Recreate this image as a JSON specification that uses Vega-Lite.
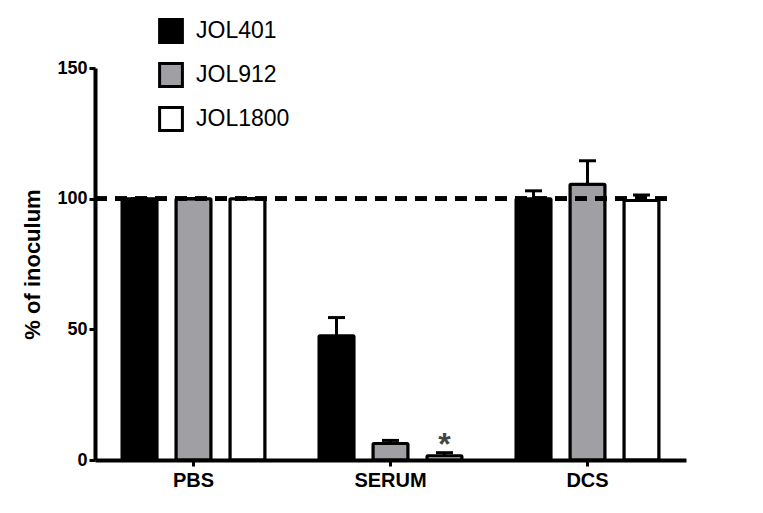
{
  "$schema": "https://vega.github.io/schema/vega-lite/v6.json",
  "width": 591,
  "height": 392,
  "autosize": {"type": "none"},
  "padding": {"left": 95, "top": 68, "right": 77, "bottom": 53},
  "background": "white",
  "config": {
    "font": "Liberation Sans",
    "view": {"stroke": null},
    "axis": {"grid": false, "domainColor": "black", "tickColor": "black", "labelColor": "black", "titleColor": "black"}
  },
  "data": {
    "values": [
      {"group": "PBS", "strain": "JOL401", "value": 100, "err": 100, "note": ""},
      {"group": "PBS", "strain": "JOL912", "value": 100, "err": 100, "note": ""},
      {"group": "PBS", "strain": "JOL1800", "value": 100, "err": 100, "note": ""},
      {"group": "SERUM", "strain": "JOL401", "value": 47.5, "err": 54.5, "note": ""},
      {"group": "SERUM", "strain": "JOL912", "value": 6.3, "err": 7.5, "note": ""},
      {"group": "SERUM", "strain": "JOL1800", "value": 1.6, "err": 2.8, "note": "*"},
      {"group": "DCS", "strain": "JOL401", "value": 100, "err": 103, "note": ""},
      {"group": "DCS", "strain": "JOL912", "value": 105.5, "err": 114.5, "note": ""},
      {"group": "DCS", "strain": "JOL1800", "value": 99.3, "err": 101.4, "note": ""}
    ]
  },
  "resolve": {"scale": {"x": "independent"}},
  "layer": [
    {
      "encoding": {
        "x": {
          "field": "group", "type": "nominal", "sort": ["PBS", "SERUM", "DCS"],
          "scale": {"paddingInner": 0, "paddingOuter": 0},
          "axis": {"title": null, "labelAngle": 0, "labelFontSize": 20, "labelFontWeight": "bold", "labelPadding": 4, "domainWidth": 4, "tickWidth": 3, "tickSize": 6}
        },
        "xOffset": {
          "field": "strain", "type": "nominal", "sort": ["JOL401", "JOL912", "JOL1800"],
          "scale": {"paddingInner": 0.35, "paddingOuter": 0.5}
        }
      },
      "layer": [
        {
          "mark": {"type": "bar", "stroke": "black", "strokeWidth": 3, "cornerRadius": 1},
          "encoding": {
            "y": {
              "field": "value", "type": "quantitative",
              "scale": {"domain": [0, 150], "nice": false},
              "axis": {"title": "% of inoculum", "titleFontSize": 22, "titleFontWeight": "bold", "titlePadding": 12, "values": [0, 50, 100, 150], "labelFontSize": 18, "labelFontWeight": "bold", "labelPadding": 2, "domainWidth": 4, "tickWidth": 3, "tickSize": 6}
            },
            "fill": {
              "field": "strain", "type": "nominal", "sort": ["JOL401", "JOL912", "JOL1800"],
              "scale": {"domain": ["JOL401", "JOL912", "JOL1800"], "range": ["#000000", "#a0a0a4", "#ffffff"]},
              "legend": {
                "title": null, "orient": "none", "legendX": 63, "legendY": -50,
                "symbolType": "square", "symbolSize": 520, "symbolStrokeColor": "black", "symbolStrokeWidth": 3, "symbolOpacity": 1,
                "labelFontSize": 23, "labelColor": "black", "labelOffset": 12, "rowPadding": 8
              }
            }
          }
        },
        {
          "mark": {"type": "rule", "stroke": "black", "strokeWidth": 3},
          "encoding": {"y": {"field": "value", "type": "quantitative"}, "y2": {"field": "err"}}
        },
        {
          "mark": {"type": "tick", "color": "black", "thickness": 3, "size": 17, "orient": "horizontal", "opacity": 1},
          "encoding": {"y": {"field": "err", "type": "quantitative"}}
        },
        {
          "mark": {"type": "text", "fontSize": 32, "fontWeight": "bold", "color": "#444444", "baseline": "alphabetic", "dy": 2},
          "encoding": {"y": {"field": "err", "type": "quantitative"}, "text": {"field": "note"}}
        }
      ]
    },
    {
      "mark": {"type": "rule", "stroke": "black", "strokeWidth": 4, "strokeDash": [12, 8]},
      "encoding": {
        "x": {"datum": 0, "type": "quantitative", "scale": {"domain": [0, 1]}, "axis": null},
        "x2": {"datum": 0.97},
        "y": {"datum": 100, "type": "quantitative"}
      }
    }
  ]
}
